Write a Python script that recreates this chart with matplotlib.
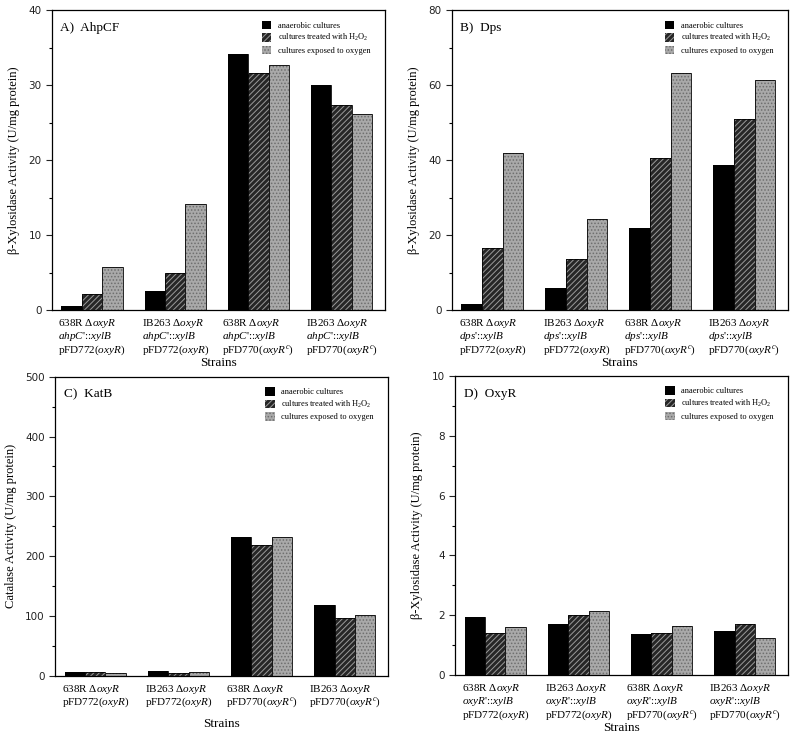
import numpy as np
import matplotlib
matplotlib.use("Agg")
import matplotlib.pyplot as plt
from matplotlib.ticker import MultipleLocator

plt.rcParams['font.family'] = ['Liberation Serif', 'DejaVu Serif']
plt.rcParams['mathtext.fontset'] = 'custom'
plt.rcParams['mathtext.rm'] = 'Liberation Serif'
plt.rcParams['mathtext.it'] = 'Liberation Serif:italic'
plt.rcParams['mathtext.bf'] = 'Liberation Serif:bold'
plt.rcParams['hatch.linewidth'] = 0.7

# series names
series = ["anaerobic cultures",
          r"cultures treated with H$_2$O$_2$",
          "cultures exposed to oxygen"]

# panel A: AhpCF
ahp_anaerobic = [0.5, 2.6, 34.2, 30.0]
ahp_h2o2 = [2.1, 5.0, 31.6, 27.3]
ahp_oxygen = [5.7, 14.1, 32.7, 26.1]

# panel B: Dps
dps_anaerobic = [1.5, 5.8, 22.0, 38.7]
dps_h2o2 = [16.5, 13.6, 40.6, 51.0]
dps_oxygen = [42.0, 24.2, 63.3, 61.4]

# panel C: KatB
kat_anaerobic = [6, 8, 232, 119]
kat_h2o2 = [6, 5, 218, 97]
kat_oxygen = [5, 7, 232, 101]

# panel D: OxyR
oxy_anaerobic = [1.94, 1.70, 1.37, 1.47]
oxy_h2o2 = [1.40, 2.00, 1.42, 1.70]
oxy_oxygen = [1.60, 2.14, 1.65, 1.25]

hosts = [r"638R $\mathit{ΔoxyR}$", r"IB263 $\mathit{ΔoxyR}$",
         r"638R $\mathit{ΔoxyR}$", r"IB263 $\mathit{ΔoxyR}$"]
plasmids = [r"pFD772($\mathit{oxyR}$)", r"pFD772($\mathit{oxyR}$)",
            r"pFD770($\mathit{oxyR^c}$)", r"pFD770($\mathit{oxyR^c}$)"]
fusions = {"A": r"$\mathit{ahpC}$'::$\mathit{xylB}$",
           "B": r"$\mathit{dps}$'::$\mathit{xylB}$",
           "D": r"$\mathit{oxyR}$'::$\mathit{xylB}$"}

ylab_xyl = "β-Xylosidase Activity (U/mg protein)"
ylab_cat = "Catalase Activity (U/mg protein)"

fig = plt.figure(figsize=(8.0, 7.33), dpi=100)

panels = [
    # key, title, data, ymax, step, ylabel, axes rect
    ("A", "A)  AhpCF", (ahp_anaerobic, ahp_h2o2, ahp_oxygen), 40, 10, ylab_xyl,
     [0.065, 0.577, 0.416, 0.409]),
    ("B", "B)  Dps", (dps_anaerobic, dps_h2o2, dps_oxygen), 80, 20, ylab_xyl,
     [0.565, 0.577, 0.42, 0.409]),
    ("C", "C)  KatB", (kat_anaerobic, kat_h2o2, kat_oxygen), 500, 100, ylab_cat,
     [0.069, 0.078, 0.416, 0.408]),
    ("D", "D)  OxyR", (oxy_anaerobic, oxy_h2o2, oxy_oxygen), 10, 2, ylab_xyl,
     [0.569, 0.079, 0.416, 0.408]),
]

styles = [
    dict(facecolor="black", edgecolor="black", hatch=None),
    dict(facecolor="#262626", edgecolor="#9a9a9a", hatch="//////"),
    dict(facecolor="#a9a9a9", edgecolor="#6e6e6e", hatch="....."),
]

x = np.arange(4)
w = 0.245

for key, title, data, ymax, step, ylabel, rect in panels:
    ax = fig.add_axes(rect)
    handles = []
    for i, (vals, st) in enumerate(zip(data, styles)):
        pos = x + (i - 1) * w
        b = ax.bar(pos, vals, w, color=st["facecolor"], edgecolor=st["edgecolor"],
                   hatch=st["hatch"], linewidth=0, label=series[i])
        ax.bar(pos, vals, w, fill=False, edgecolor="black", linewidth=0.6)
        handles.append(b)
    ax.set_xlim(-0.48, 3.52)
    ax.set_ylim(0, ymax)
    ax.yaxis.set_major_locator(MultipleLocator(step))
    ax.yaxis.set_minor_locator(MultipleLocator(step / 2))
    ax.tick_params(axis="y", which="major", length=4, width=0.8, labelsize=7.5,
                   colors="#222222")
    ax.tick_params(axis="y", which="minor", length=2.5, width=0.8)
    for lab in ax.get_yticklabels():
        lab.set_fontfamily("DejaVu Sans")
    ax.tick_params(axis="x", length=0, pad=5)
    if key == "C":
        labels = [h + "\n" + p for h, p in zip(hosts, plasmids)]
    else:
        labels = [h + "\n" + fusions[key] + "\n" + p for h, p in zip(hosts, plasmids)]
    ax.set_xticks(x)
    ax.set_xticklabels(labels, fontsize=8, ha="center", multialignment="left",
                       linespacing=1.0)
    for sp in ax.spines.values():
        sp.set_linewidth(0.9)
    ax.set_ylabel(ylabel, fontsize=9, labelpad=6)
    ax.text(0.025, 0.96, title, transform=ax.transAxes, fontsize=9.5,
            va="top", ha="left")
    ax.legend(handles=handles, loc="upper right", bbox_to_anchor=(0.975, 0.985),
              frameon=False, fontsize=6, handlelength=1.1, handleheight=1.2,
              handletextpad=0.8, labelspacing=0.3, borderaxespad=0.3)
    if key == "C":
        ax.set_xlabel("Strains", fontsize=9.5, labelpad=6)
    else:
        ax.set_xlabel("Strains", fontsize=9.5, labelpad=0)

fig.savefig("out.png", dpi=100)
